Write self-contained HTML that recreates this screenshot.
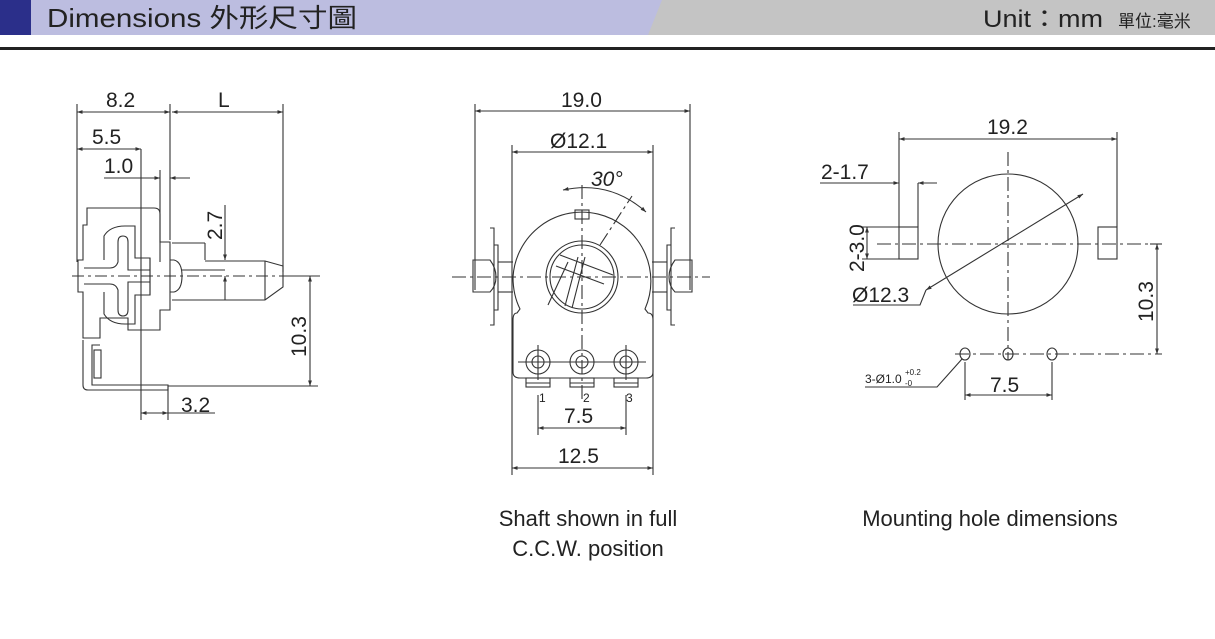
<!DOCTYPE html>
<html><head><meta charset="utf-8"><style>
html,body{margin:0;padding:0;background:#fff;width:1215px;height:639px;overflow:hidden}
svg{display:block}
text{font-family:"Liberation Sans","Noto Sans CJK TC",sans-serif;fill:#222}
</style></head><body>
<svg width="1215" height="639" viewBox="0 0 1215 639" xmlns="http://www.w3.org/2000/svg">
<defs>
<marker id="a" viewBox="0 0 10 10" refX="10" refY="5" markerWidth="7" markerHeight="5" orient="auto-start-reverse"><path d="M0,1.5 L10,5 L0,8.5z" fill="#333"/></marker>
</defs>
<rect x="0" y="0" width="1215" height="35" fill="#c4c4c4"/>
<polygon points="0,0 662,0 648,35 0,35" fill="#bcbde0"/>
<rect x="0" y="0" width="31" height="35" fill="#2b2f8a"/>
<text x="47" y="27" font-size="26" textLength="310" lengthAdjust="spacingAndGlyphs">Dimensions  外形尺寸圖</text>
<text x="983" y="27" font-size="24" textLength="120" lengthAdjust="spacingAndGlyphs">Unit：mm</text>
<text x="1118" y="27" font-size="17">單位:毫米</text>
<rect x="0" y="47" width="1215" height="3" fill="#222"/>

<g stroke="#333" stroke-width="1.1" fill="none">
<line x1="77" y1="104" x2="77" y2="262"/>
<line x1="170" y1="104" x2="170" y2="240"/>
<line x1="283" y1="104" x2="283" y2="272"/>
<line x1="77" y1="112" x2="170" y2="112" marker-start="url(#a)" marker-end="url(#a)"/>
<line x1="172" y1="112" x2="283" y2="112" marker-start="url(#a)" marker-end="url(#a)"/>
<line x1="77" y1="149" x2="141" y2="149" marker-start="url(#a)" marker-end="url(#a)"/>
<line x1="141" y1="149" x2="141" y2="420"/>
<line x1="160" y1="170" x2="160" y2="262"/>
<line x1="104" y1="178" x2="160" y2="178" marker-end="url(#a)"/>
<line x1="190" y1="178" x2="170" y2="178" marker-end="url(#a)"/>
<path d="M87,208 L154,208 Q160,208 160,214 L160,242 L170,242 L170,310 L160,310 L160,330 L128,330 L128,318 L100,318 L100,338 L83,338 L83,292 L78,292 L78,260 L83,260 L83,225 L87,225 Z"/>
<path d="M104,260 L104,236 Q110,226 125,226 L135,226 L135,258 L150,258 L150,295 L135,295 L135,324 L125,324 Q110,324 104,314 L104,292"/>
<path d="M84,268 L110,268 Q116,268 118,262 L118,242 Q118,236 123,236 Q128,236 128,242 L128,270 L150,270"/>
<path d="M84,284 L110,284 Q116,284 118,290 L118,310 Q118,316 123,316 Q128,316 128,310 L128,282 L150,282"/>
<line x1="150" y1="258" x2="150" y2="295"/>
<line x1="172" y1="243" x2="205" y2="243"/><line x1="205" y1="243" x2="205" y2="260"/>
<path d="M170,260 L174,260 Q182,262 182,276 Q182,290 174,292 L170,292"/>
<path d="M205,261 L265,261 L283,266 L283,287 L265,300 L172,300"/>
<line x1="265" y1="261" x2="265" y2="300"/>
<line x1="182" y1="270" x2="225" y2="270"/>
<path d="M83,340 L83,385 Q83,390 88,390 L168,390 L168,385 L92,385 L92,345 L100,345"/>
<rect x="94" y="350" width="7" height="28"/>
<line x1="72" y1="276" x2="320" y2="276" stroke-dasharray="12,4,3,4"/>
<line x1="225" y1="205" x2="225" y2="260" marker-end="url(#a)"/>
<line x1="225" y1="300" x2="225" y2="276" marker-end="url(#a)"/>
<line x1="283" y1="276" x2="318" y2="276"/>
<line x1="168" y1="386" x2="318" y2="386"/>
<line x1="310" y1="276" x2="310" y2="386" marker-start="url(#a)" marker-end="url(#a)"/>
<line x1="168" y1="386" x2="168" y2="420"/>
<line x1="141" y1="413" x2="168" y2="413" marker-start="url(#a)" marker-end="url(#a)"/>
<line x1="168" y1="413" x2="215" y2="413"/>

<line x1="475" y1="104" x2="475" y2="290"/>
<line x1="690" y1="104" x2="690" y2="290"/>
<line x1="475" y1="111" x2="690" y2="111" marker-start="url(#a)" marker-end="url(#a)"/>
<line x1="512" y1="145" x2="512" y2="475"/>
<line x1="653" y1="145" x2="653" y2="475"/>
<line x1="512" y1="152" x2="653" y2="152" marker-start="url(#a)" marker-end="url(#a)"/>
<path d="M517,313 L520,309 Q513,295 513,277 A69,69 0 1 1 645,309 L648,313 Q653,313 653,320 L653,372 Q653,378 646,378 L520,378 Q513,378 513,372 L513,320 Q513,313 517,313Z"/>
<rect x="575" y="210" width="14" height="9"/>
<circle cx="582" cy="277" r="36"/>
<circle cx="582" cy="277" r="32"/>
<path d="M560,255 L613,275 M556,266 L604,284 M568,262 L548,305 M585,257 L572,308 M578,257 L565,306"/>
<g>
<circle cx="538" cy="362" r="12"/><circle cx="538" cy="362" r="6"/>
<circle cx="582" cy="362" r="12"/><circle cx="582" cy="362" r="6"/>
<circle cx="626" cy="362" r="12"/><circle cx="626" cy="362" r="6"/>
<rect x="526" y="378" width="24" height="9"/><rect x="570" y="378" width="24" height="9"/><rect x="614" y="378" width="24" height="9"/>
<line x1="526" y1="383" x2="550" y2="383"/><line x1="570" y1="383" x2="594" y2="383"/><line x1="614" y1="383" x2="638" y2="383"/>
<line x1="518" y1="362" x2="646" y2="362"/>
<line x1="538" y1="345" x2="538" y2="380"/><line x1="626" y1="345" x2="626" y2="380"/>
</g>
<path d="M473,260 L490,260 Q496,268 496,277 Q496,286 490,292 L473,292Z"/>
<path d="M490,228 L494,228 L494,325 L490,325 M494,245 L498,245 L498,310 L494,310"/>
<line x1="498" y1="262" x2="513" y2="262"/><line x1="498" y1="292" x2="513" y2="292"/>
<path d="M692,260 L675,260 Q669,268 669,277 Q669,286 675,292 L692,292Z"/>
<path d="M675,228 L671,228 L671,325 L675,325 M671,245 L667,245 L667,310 L671,310"/>
<line x1="667" y1="262" x2="652" y2="262"/><line x1="667" y1="292" x2="652" y2="292"/>
<line x1="452" y1="277" x2="710" y2="277" stroke-dasharray="14,4,3,4"/>
<line x1="582" y1="185" x2="582" y2="400" stroke-dasharray="14,4,3,4"/>
<line x1="600" y1="245" x2="632" y2="196" stroke-dasharray="14,4,3,4"/>
<path d="M563,190 Q610,180 646,212" marker-start="url(#a)" marker-end="url(#a)"/>
<line x1="538" y1="395" x2="538" y2="435"/><line x1="626" y1="395" x2="626" y2="435"/>
<line x1="538" y1="428" x2="626" y2="428" marker-start="url(#a)" marker-end="url(#a)"/>
<line x1="512" y1="468" x2="653" y2="468" marker-start="url(#a)" marker-end="url(#a)"/>

<line x1="899" y1="132" x2="899" y2="227"/>
<line x1="1117" y1="132" x2="1117" y2="227"/>
<line x1="899" y1="139" x2="1117" y2="139" marker-start="url(#a)" marker-end="url(#a)"/>
<line x1="918" y1="183" x2="918" y2="227"/>
<line x1="820" y1="183" x2="899" y2="183" marker-end="url(#a)"/>
<line x1="937" y1="183" x2="918" y2="183" marker-end="url(#a)"/>
<rect x="899" y="227" width="19" height="32"/>
<rect x="1098" y="227" width="19" height="32"/>
<line x1="862" y1="227" x2="899" y2="227"/><line x1="862" y1="259" x2="899" y2="259"/>
<line x1="867" y1="227" x2="867" y2="259" marker-start="url(#a)" marker-end="url(#a)"/>
<circle cx="1008" cy="244" r="70"/>
<line x1="877" y1="244" x2="1160" y2="244" stroke-dasharray="14,4,3,4"/>
<line x1="1008" y1="152" x2="1008" y2="360" stroke-dasharray="14,4,3,4"/>
<line x1="926" y1="290" x2="1083" y2="194" marker-start="url(#a)" marker-end="url(#a)"/>
<polyline points="926,290 920,305 853,305"/>
<line x1="1150" y1="244" x2="1162" y2="244"/>
<line x1="1157" y1="244" x2="1157" y2="354" marker-start="url(#a)" marker-end="url(#a)"/>
<line x1="955" y1="354" x2="1162" y2="354" stroke-dasharray="14,4,3,4"/>
<ellipse cx="965" cy="354" rx="5" ry="6"/><ellipse cx="1008" cy="354" rx="5" ry="6"/><ellipse cx="1052" cy="354" rx="5" ry="6"/>
<line x1="965" y1="362" x2="965" y2="400"/><line x1="1052" y1="362" x2="1052" y2="400"/>
<line x1="965" y1="395" x2="1052" y2="395" marker-start="url(#a)" marker-end="url(#a)"/>
<polyline points="865,387 937,387 962,359"/>
</g>

<g font-size="21">
<text x="106" y="107">8.2</text>
<text x="218" y="107">L</text>
<text x="92" y="144">5.5</text>
<text x="104" y="173">1.0</text>
<text transform="translate(222,240) rotate(-90)">2.7</text>
<text transform="translate(306,357) rotate(-90)">10.3</text>
<text x="181" y="412">3.2</text>
<text x="561" y="107">19.0</text>
<text x="550" y="148">Ø12.1</text>
<text x="591" y="186" font-style="italic">30°</text>
<text x="564" y="423">7.5</text>
<text x="558" y="463">12.5</text>
<text x="987" y="134">19.2</text>
<text x="821" y="179">2-1.7</text>
<text transform="translate(864,272) rotate(-90)">2-3.0</text>
<text x="852" y="302">Ø12.3</text>
<text transform="translate(1153,322) rotate(-90)">10.3</text>
<text x="990" y="392">7.5</text>
</g>
<g font-size="12">
<text x="539" y="402">1</text><text x="583" y="402">2</text><text x="626" y="402">3</text>
<text x="865" y="383">3-Ø1.0</text><text x="905" y="375" font-size="8">+0.2</text><text x="905" y="386" font-size="8">-0</text>
</g>
<g font-size="22" text-anchor="middle">
<text x="588" y="526">Shaft shown in full</text>
<text x="588" y="556">C.C.W. position</text>
<text x="990" y="526">Mounting hole dimensions</text>
</g>
</svg>
</body></html>
